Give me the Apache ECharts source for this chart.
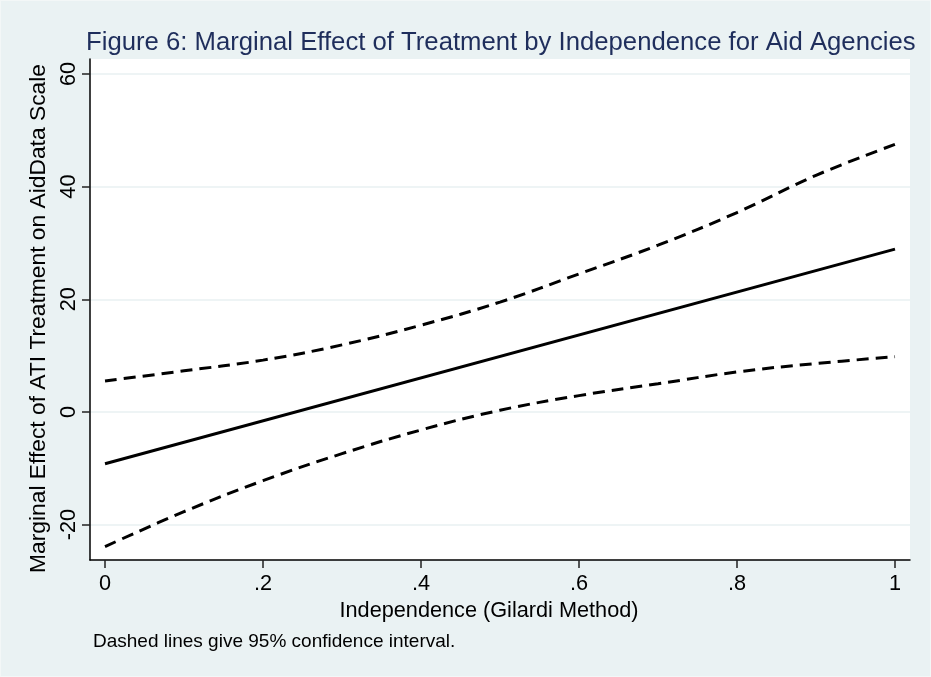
<!DOCTYPE html>
<html>
<head>
<meta charset="utf-8">
<script src="https://cdn.jsdelivr.net/npm/echarts@6/dist/echarts.min.js"></script>
<style>
  html, body { margin: 0; padding: 0; background: #eaf2f3; }
  #wrap { width: 931px; height: 677px; box-sizing: border-box; border: 1px solid #f3f7f7; }
  #chart { width: 929px; height: 675px; }
</style>
</head>
<body>
<div id="wrap"><div id="chart"></div></div>
<script>
// Independence (Gilardi Method) values at which the effect is evaluated
const independence = [0, 0.1, 0.2, 0.3, 0.4, 0.5, 0.6, 0.7, 0.8, 0.9, 1];
// Marginal effect (solid line) – straight line, endpoints
const effectX = [0, 1];
const effect = [-9.2, 28.9];
// 95% confidence interval bounds (dashed lines)
const upperCI = [5.5, 7.3, 9.2, 11.9, 15.4, 19.5, 24.5, 29.6, 35.4, 42.0, 47.5];
const lowerCI = [-23.9, -17.7, -12.2, -7.4, -3.2, 0.3, 2.9, 5.0, 7.1, 8.6, 9.8];

const xTicks = [0, 0.2, 0.4, 0.6, 0.8, 1];
const xTickLabels = ['0', '.2', '.4', '.6', '.8', '1'];
const yTicks = [-20, 0, 20, 40, 60];

const titleText = 'Figure 6: Marginal Effect of Treatment by Independence for Aid Agencies';
const xTitle = 'Independence (Gilardi Method)';
const yTitle = 'Marginal Effect of ATI Treatment on AidData Scale';
const noteText = 'Dashed lines give 95% confidence interval.';

const FONT = '"Liberation Sans", Arial, Helvetica, sans-serif';

function pairs(xs, ys) { return xs.map((x, i) => [x, ys[i]]); }

const chart = echarts.init(document.getElementById('chart'), null, { renderer: 'canvas' });
chart.setOption({
  animation: false,
  backgroundColor: '#eaf2f3',
  textStyle: { fontFamily: FONT },
  title: {
    text: titleText,
    left: 80,
    top: 24,
    textStyle: { color: '#1f2e5c', fontSize: 25.7, fontWeight: 'normal', fontFamily: FONT }
  },
  graphic: [{
    type: 'text',
    left: 92,
    top: 631,
    style: { text: noteText, fill: '#000', font: '19px ' + FONT }
  }],
  grid: {
    left: 89, right: 20, top: 58, bottom: 116,
    show: true, backgroundColor: '#ffffff', borderWidth: 0
  },
  xAxis: {
    type: 'value',
    min: -0.019, max: 1.019,
    name: xTitle,
    nameLocation: 'middle',
    nameGap: 36,
    nameTextStyle: { fontSize: 21.7, color: '#000', fontFamily: FONT, padding: [0, 22, 0, 0] },
    axisLine: { show: true, onZero: false, lineStyle: { color: '#000', width: 1.5 } },
    axisTick: { show: true, length: 8, customValues: xTicks, lineStyle: { color: '#222', width: 1.5 } },
    axisLabel: {
      fontSize: 21.7, color: '#000', margin: 13, customValues: xTicks,
      formatter: v => { const i = xTicks.findIndex(t => Math.abs(t - v) < 1e-9); return i >= 0 ? xTickLabels[i] : ''; }
    },
    splitLine: { show: false }
  },
  yAxis: {
    type: 'value',
    min: -26.28, max: 62.65,
    name: yTitle,
    nameLocation: 'middle',
    nameRotate: 90,
    nameGap: 39,
    nameTextStyle: { fontSize: 22.8, color: '#000', fontFamily: FONT, padding: [0, 18, 0, 0] },
    axisLine: { show: true, onZero: false, lineStyle: { color: '#000', width: 1.5 } },
    axisTick: { show: true, length: 8, customValues: yTicks, lineStyle: { color: '#222', width: 1.5 } },
    axisLabel: { fontSize: 21.7, color: '#000', rotate: 90, margin: 10, customValues: yTicks },
    splitLine: { show: true, lineStyle: { color: '#e8f0f2', width: 1.5 } }
  },
  series: [
    {
      name: 'Upper CI', type: 'line', data: pairs(independence, upperCI),
      showSymbol: false, smooth: 0.4, silent: true,
      lineStyle: { color: '#000', width: 3, type: [12, 7] }
    },
    {
      name: 'Marginal effect', type: 'line', data: pairs(effectX, effect),
      showSymbol: false, silent: true,
      lineStyle: { color: '#000', width: 3 }
    },
    {
      name: 'Lower CI', type: 'line', data: pairs(independence, lowerCI),
      showSymbol: false, smooth: 0.4, silent: true,
      lineStyle: { color: '#000', width: 3, type: [12, 7] }
    }
  ]
});
</script>
</body>
</html>
